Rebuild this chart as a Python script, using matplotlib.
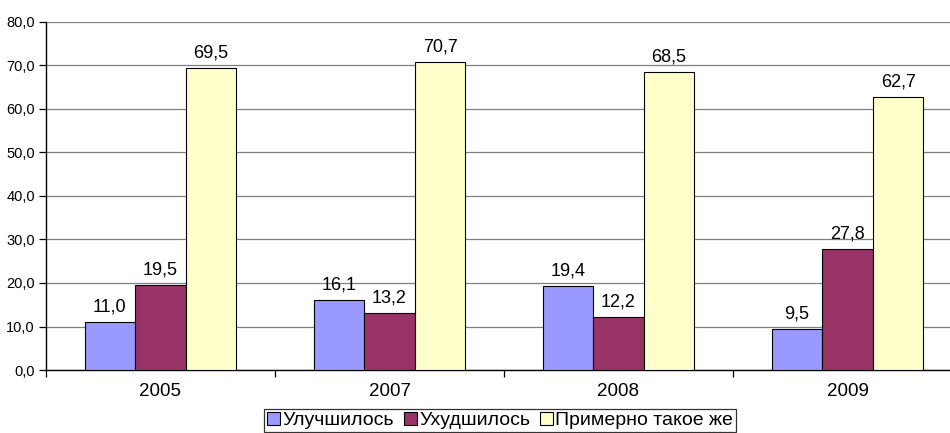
import matplotlib
matplotlib.use("Agg")
import matplotlib.pyplot as plt
import numpy as np

plt.rcParams['font.family'] = ['Liberation Sans', 'DejaVu Sans']

years = ["2005", "2007", "2008", "2009"]
series_names = ["Улучшилось", "Ухудшилось", "Примерно такое же"]
improved = [11.0, 16.1, 19.4, 9.5]
worsened = [19.5, 13.2, 12.2, 27.8]
same = [69.5, 70.7, 68.5, 62.7]
yticks = [0, 10, 20, 30, 40, 50, 60, 70, 80]
colors = ["#9999FF", "#993366", "#FFFFCC"]

W, H = 950, 433
fig = plt.figure(figsize=(W / 100, H / 100), dpi=100)
ax = fig.add_axes([46 / W, 63 / H, 916 / W, 348 / H])

x = np.arange(len(years))
bw = 0.221
offsets = [-bw, 0, bw]
for vals, c, off, name in zip([improved, worsened, same], colors, offsets, series_names):
    bars = ax.bar(x + off, vals, width=bw, color=c, edgecolor="black", linewidth=0.8,
                  label=name, zorder=3)
    for b, v in zip(bars, vals):
        ax.text(b.get_x() + b.get_width() / 2, v + 1.5, f"{v:.1f}".replace(".", ","),
                ha="center", va="bottom", fontsize=13, zorder=4)

ax.set_xlim(-0.5, 3.5)
ax.set_ylim(0, 80)
ax.set_yticks(yticks)
ax.set_yticklabels([f"{v:.1f}".replace(".", ",") for v in yticks], fontsize=10.5)
ax.yaxis.grid(True, color="#808080", linewidth=0.9, zorder=0)
ax.set_axisbelow(True)

ax.set_xticks(x)
ax.set_xticklabels(years, fontsize=13.5)
ax.tick_params(axis="x", length=0, pad=9)
ax.set_xticks(np.arange(-0.5, 4.0, 1.0), minor=True)
ax.tick_params(axis="x", which="minor", length=5, width=0.9, direction="out")
ax.tick_params(axis="y", length=5, width=0.9, direction="out", pad=3)

for s in ["top", "right"]:
    ax.spines[s].set_visible(False)
ax.spines["left"].set_linewidth(1.0)
ax.spines["bottom"].set_linewidth(1.0)

leg = fig.legend(loc="center", bbox_to_anchor=(500 / W, 12.5 / H), ncol=3, fontsize=14,
                 frameon=True, fancybox=False, edgecolor="black", handlelength=0.68,
                 handleheight=0.68, handletextpad=0.12, columnspacing=0.5,
                 borderpad=0.12, borderaxespad=0)
leg.get_frame().set_linewidth(0.9)

fig.savefig("out.png", dpi=100)
